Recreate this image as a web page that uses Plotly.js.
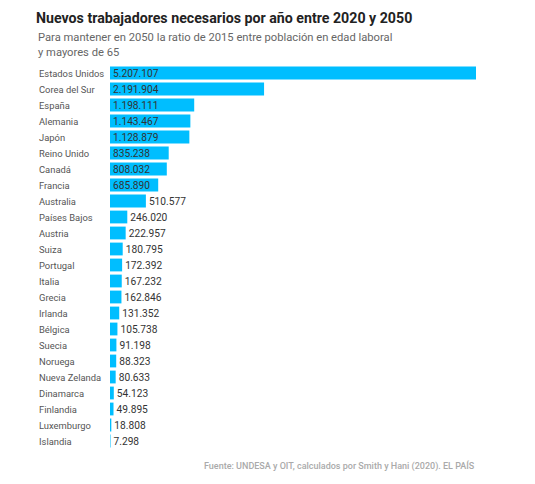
<!DOCTYPE html>
<html>
<head>
<meta charset="utf-8">
<script src="https://cdn.plot.ly/plotly-3.0.1.min.js"></script>
<style>html,body{margin:0;padding:0;background:#fff;}#chart{width:535px;height:484px;}</style>
</head>
<body>
<div id="chart"></div>
<script>
const countries = ["Estados Unidos","Corea del Sur","España","Alemania","Japón","Reino Unido","Canadá","Francia","Australia","Países Bajos","Austria","Suiza","Portugal","Italia","Grecia","Irlanda","Bélgica","Suecia","Noruega","Nueva Zelanda","Dinamarca","Finlandia","Luxemburgo","Islandia"];
const workers = [5207107,2191904,1198111,1143467,1128879,835238,808032,685890,510577,246020,222957,180795,172392,167232,162846,131352,105738,91198,88323,80633,54123,49895,18808,7298];
const titleText = "Nuevos trabajadores necesarios por año entre 2020 y 2050";
const subtitleText = "Para mantener en 2050 la ratio de 2015 entre población en edad laboral<br>y mayores de 65";
const sourceText = "Fuente: UNDESA y OIT, calculados por Smith y Hani (2020). EL PAÍS";

const FONT = "Roboto, 'Noto Sans', sans-serif";
const W = 535, H = 484;
const m = {l:110, r:59, t:65, b:35};
const pw = W - m.l - m.r, ph = H - m.t - m.b;
const px = x => (x - m.l) / pw;
const py = y => (H - m.b - y) / ph;

const trace = {
  type: "bar",
  orientation: "h",
  x: workers,
  y: countries,
  marker: {color: "#00BEFF"},
  texttemplate: "%{x:,}",
  textposition: workers.map(v => v > 600000 ? "inside" : "outside"),
  insidetextanchor: "start",
  constraintext: "none",
  insidetextfont: {family: FONT, size: 10.2, color: "#333"},
  outsidetextfont: {family: FONT, size: 10.2, color: "#333"},
  cliponaxis: false,
  hoverinfo: "none"
};

const annotations = countries.map(c => ({
  xref: "paper", yref: "y", x: px(37), y: c, xanchor: "left", yanchor: "middle",
  text: c, showarrow: false, font: {family: FONT, size: 9.4, color: "#555"}
}));
annotations.push({
  xref: "paper", yref: "paper", x: px(36), y: py(45), xanchor: "left", yanchor: "middle",
  align: "left", text: subtitleText, showarrow: false,
  font: {family: FONT, size: 11.2, color: "#666"}
});
annotations.push({
  xref: "paper", yref: "paper", x: px(477), y: py(466), xanchor: "right", yanchor: "middle",
  text: sourceText, showarrow: false,
  font: {family: FONT, size: 9, color: "#aaa", weight: 500}
});

const layout = {
  width: W, height: H,
  margin: m,
  separators: ",.",
  paper_bgcolor: "#fff", plot_bgcolor: "#fff",
  title: {text: "<b>" + titleText + "</b>", x: 36/W, xref: "container", xanchor: "left",
          y: 1 - 18/H, yref: "container", yanchor: "middle",
          font: {family: FONT, size: 14.2, color: "#222"}},
  xaxis: {range: [0, workers[0]], visible: false, fixedrange: true},
  yaxis: {autorange: "reversed", showticklabels: false, showgrid: false, zeroline: false, showline: false, ticks: "", fixedrange: true},
  bargap: 0.2,
  showlegend: false,
  annotations: annotations
};

Plotly.newPlot("chart", [trace], layout, {displayModeBar: false, staticPlot: true});
</script>
</body>
</html>
